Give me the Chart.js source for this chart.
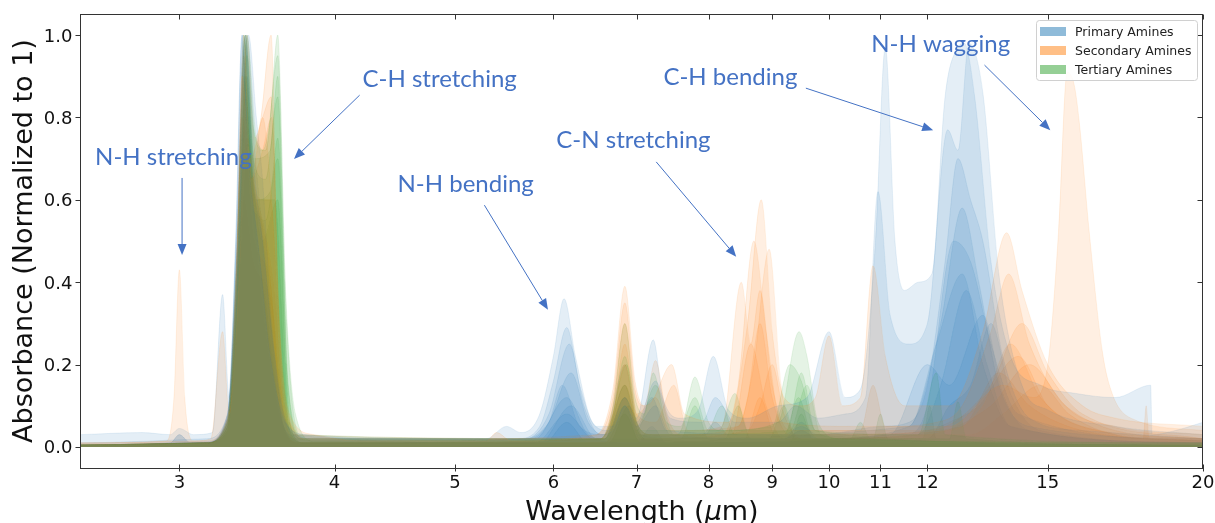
<!DOCTYPE html>
<html><head><meta charset="utf-8">
<script src="https://cdn.jsdelivr.net/npm/chart.js@4.4.0/dist/chart.umd.min.js"></script>
<style>html,body{margin:0;padding:0;background:#fff}#wrap{width:1215px;height:523px}</style>
</head><body><div id="wrap"><canvas id="c" width="1215" height="523"></canvas></div>
<script>
// ---- tick labels ----
const xTicks = [3,4,5,6,7,8,9,10,11,12,15,20];
const yTicks = [0,0.2,0.4,0.6,0.8,1.0];
const classNames = ['Primary Amines','Secondary Amines','Tertiary Amines'];

// ---- spectra: [wavelength (um), absorbance] ----
const primary1 = [[2.5,.03],[2.8,.035],[2.95,.03],[3.0,.045],[3.08,.03],[3.19,.035],[3.25,.37],[3.29,.12],[3.33,.5],[3.37,1.0],[3.41,.7],[3.47,.5],[3.55,.22],[3.65,.06],[3.8,.03],[4.5,.02],[5.3,.02],[5.5,.05],[5.65,.035],[5.85,.08],[6.0,.22],[6.12,.36],[6.25,.22],[6.45,.06],[6.65,.04],[6.85,.12],[7.0,.07],[7.22,.26],[7.35,.12],[7.6,.07],[7.85,.09],[8.07,.22],[8.3,.09],[8.6,.07],[9.1,.1],[9.6,.12],[10.0,.28],[10.3,.12],[10.6,.14],[10.9,.5],[11.1,.97],[11.3,.5],[11.5,.38],[11.8,.4],[12.1,.42],[12.4,.85],[12.7,.97],[12.85,.98],[13.1,.85],[13.5,.45],[14.0,.22],[14.8,.15],[15.8,.13],[17.0,.12],[18.15,.15],[18.2,.03],[19.0,.04],[20,.06]];
const primary2 = [[2.5,.01],[3.15,.02],[3.28,.08],[3.34,.55],[3.39,1.0],[3.44,.7],[3.5,.5],[3.57,.25],[3.66,.06],[3.85,.02],[5.6,.02],[5.85,.05],[6.0,.16],[6.15,.29],[6.3,.15],[6.5,.05],[6.7,.05],[6.85,.1],[7.0,.06],[7.25,.16],[7.45,.07],[7.9,.06],[8.1,.12],[8.4,.06],[9.1,.06],[9.4,.1],[9.8,.07],[10.3,.08],[10.7,.12],[10.95,.62],[11.2,.32],[11.6,.25],[12.0,.3],[12.46,.77],[12.7,.72],[12.96,.98],[13.3,.86],[13.7,.42],[14.3,.15],[15.0,.09],[17.0,.05],[20,.03]];
const primary3 = [[2.5,.005],[3.15,.01],[3.28,.07],[3.35,.55],[3.41,1.0],[3.46,.8],[3.5,.65],[3.56,.3],[3.65,.06],[3.85,.015],[5.7,.02],[5.95,.08],[6.18,.25],[6.35,.1],[6.55,.03],[6.7,.04],[6.85,.1],[7.0,.05],[7.2,.12],[7.4,.04],[9.2,.03],[9.5,.05],[9.8,.03],[11.0,.05],[11.6,.06],[12.0,.15],[12.4,.45],[12.7,.7],[13.0,.6],[13.3,.5],[13.8,.22],[14.5,.07],[16.0,.04],[20,.02]];
const primary4 = [[2.5,.005],[2.95,.01],[3.0,.03],[3.06,.012],[3.15,.012],[3.28,.06],[3.33,.3],[3.39,1.0],[3.44,.65],[3.5,.5],[3.6,.15],[3.72,.03],[5.7,.02],[5.95,.06],[6.2,.18],[6.4,.06],[6.6,.03],[6.85,.15],[7.0,.05],[7.25,.1],[7.45,.03],[9.2,.02],[9.5,.04],[9.8,.02],[11.6,.05],[12.3,.3],[12.8,.58],[13.2,.4],[13.7,.15],[14.5,.05],[20,.02]];
const primary5 = [[2.5,.005],[3.15,.01],[3.28,.08],[3.33,.5],[3.37,1.0],[3.42,.6],[3.48,.55],[3.55,.25],[3.65,.04],[3.8,.01],[5.75,.02],[5.95,.06],[6.1,.15],[6.3,.05],[6.6,.03],[6.85,.2],[7.0,.06],[7.2,.03],[7.9,.03],[8.1,.06],[8.3,.03],[11.5,.03],[12.0,.1],[12.6,.5],[13.0,.45],[13.5,.25],[14.2,.08],[20,.015]];
const primary6 = [[2.5,.005],[2.95,.01],[3.0,.03],[3.06,.01],[3.15,.012],[3.28,.08],[3.34,.45],[3.4,1.0],[3.45,.72],[3.52,.45],[3.6,.12],[3.72,.02],[5.8,.02],[6.15,.12],[6.4,.03],[6.6,.02],[6.85,.12],[7.0,.03],[9.2,.02],[9.5,.06],[9.8,.02],[11.8,.03],[12.3,.15],[12.9,.38],[13.4,.2],[14.0,.05],[20,.01]];
const primary7 = [[2.5,.005],[3.15,.01],[3.28,.06],[3.36,.6],[3.4,.9],[3.45,.55],[3.55,.2],[3.68,.03],[5.8,.01],[6.15,.08],[6.45,.02],[7.0,.01],[7.2,.05],[7.4,.01],[11.2,.03],[12.0,.2],[12.5,.15],[13.3,.32],[13.8,.13],[14.5,.04],[20,.01]];
const primary8 = [[2.5,.005],[3.15,.01],[3.28,.07],[3.34,.5],[3.38,1.0],[3.43,.65],[3.5,.4],[3.6,.1],[3.72,.01],[5.85,.01],[6.2,.1],[6.5,.02],[11.6,.05],[12.2,.25],[12.8,.42],[13.3,.2],[14.0,.05],[20,.01]];
const primary9 = [[2.5,.005],[3.15,.01],[3.28,.05],[3.35,.45],[3.39,.85],[3.45,.55],[3.52,.35],[3.64,.05],[3.75,.01],[5.9,.01],[6.15,.06],[6.4,.01],[12.0,.02],[12.5,.1],[13.0,.15],[13.5,.3],[14.0,.13],[14.8,.04],[20,.01]];

const secondary1 = [[2.5,.01],[2.93,.015],[2.97,.12],[3.0,.43],[3.03,.12],[3.08,.015],[3.18,.02],[3.25,.28],[3.29,.08],[3.33,.35],[3.37,.9],[3.42,.7],[3.49,.8],[3.556,1.0],[3.6,.4],[3.68,.08],[3.85,.03],[4.2,.015],[5.3,.015],[5.4,.035],[5.55,.015],[6.5,.03],[6.7,.14],[6.85,.39],[6.98,.16],[7.1,.1],[7.2,.11],[7.47,.2],[7.65,.08],[8.3,.06],[8.6,.3],[8.82,.6],[9.0,.28],[9.2,.12],[9.5,.1],[9.75,.12],[10.0,.27],[10.25,.1],[10.6,.12],[10.85,.44],[11.1,.22],[11.5,.1],[12.5,.1],[13.3,.28],[13.9,.52],[14.3,.38],[15.0,.2],[16.0,.1],[17.0,.07],[20,.05]];
const secondary2 = [[2.5,.01],[3.15,.015],[3.28,.07],[3.34,.5],[3.38,1.0],[3.43,.65],[3.5,.8],[3.56,.6],[3.65,.1],[3.8,.02],[6.55,.02],[6.7,.08],[6.85,.2],[7.0,.06],[7.2,.03],[8.2,.03],[8.45,.15],[8.7,.5],[8.9,.28],[9.15,.06],[10.5,.05],[12.5,.05],[13.8,.15],[14.6,.12],[15.0,.2],[15.3,.52],[15.55,.91],[15.75,.88],[15.9,.79],[16.2,.52],[16.6,.23],[16.9,.13],[17.5,.07],[20,.04]];
const secondary3 = [[2.5,.005],[3.15,.01],[3.28,.06],[3.35,.4],[3.4,1.0],[3.45,.75],[3.5,.8],[3.556,.85],[3.61,.3],[3.7,.05],[3.85,.015],[6.5,.03],[6.7,.12],[6.85,.35],[6.98,.14],[7.1,.1],[7.25,.21],[7.4,.08],[7.6,.03],[8.45,.05],[8.7,.2],[8.95,.48],[9.15,.15],[9.4,.04],[10.6,.04],[10.85,.15],[11.1,.05],[12.2,.06],[12.8,.1],[13.5,.28],[13.95,.42],[14.5,.25],[15.5,.1],[17.0,.05],[20,.03]];
const secondary4 = [[2.5,.005],[3.15,.01],[3.28,.06],[3.34,.45],[3.38,.95],[3.43,.65],[3.5,.72],[3.56,.8],[3.62,.2],[3.72,.03],[6.55,.02],[6.7,.1],[6.85,.3],[7.0,.08],[7.25,.06],[7.5,.15],[7.7,.04],[8.2,.05],[8.5,.4],[8.65,.25],[8.8,.38],[9.0,.15],[9.3,.04],[12.0,.04],[13.5,.15],[14.3,.3],[15.0,.18],[16.0,.08],[20,.02]];
const secondary5 = [[2.5,.005],[3.15,.01],[3.28,.07],[3.34,.5],[3.39,1.0],[3.44,.65],[3.5,.6],[3.55,.6],[3.62,.15],[3.72,.02],[6.55,.02],[6.7,.08],[6.85,.25],[7.0,.08],[7.25,.12],[7.45,.04],[8.45,.05],[8.6,.12],[8.8,.3],[9.0,.12],[9.3,.03],[12.5,.04],[13.3,.1],[14.0,.25],[14.8,.12],[16.0,.05],[20,.02]];
const secondary6 = [[2.5,.005],[3.15,.01],[3.28,.05],[3.33,.4],[3.37,.8],[3.42,.65],[3.5,.55],[3.57,.4],[3.65,.06],[3.78,.01],[6.6,.02],[6.85,.15],[7.05,.03],[8.35,.03],[8.65,.25],[8.9,.1],[9.2,.02],[12.0,.03],[13.5,.1],[14.5,.2],[15.5,.1],[17.0,.04],[20,.02]];
const secondary7 = [[2.5,.005],[3.15,.01],[3.28,.05],[3.35,.4],[3.4,.75],[3.46,.6],[3.54,.45],[3.63,.06],[3.75,.01],[6.6,.01],[6.85,.12],[7.05,.02],[8.6,.04],[8.8,.1],[9.0,.2],[9.2,.08],[9.5,.02],[12.8,.05],[13.7,.18],[14.5,.1],[16.0,.04],[20,.015]];
const secondary8 = [[2.5,.005],[3.15,.01],[3.28,.04],[3.34,.35],[3.39,.7],[3.45,.5],[3.55,.4],[3.64,.04],[3.75,.01],[6.65,.01],[6.9,.1],[7.1,.02],[8.55,.02],[8.8,.12],[9.05,.03],[13.0,.03],[13.8,.08],[14.8,.15],[15.6,.08],[17.0,.03],[20,.015]];
const secondary9 = [[2.5,.005],[3.15,.01],[3.28,.04],[3.38,.6],[3.44,.45],[3.56,.35],[3.65,.04],[3.75,.01],[6.6,.01],[6.85,.08],[7.05,.01],[12.0,.04],[12.5,.06],[13.2,.1],[14.2,.22],[15.0,.1],[17.0,.03],[17.9,.02],[18.0,.1],[18.1,.02],[20,.02]];

const tertiary1 = [[2.5,.005],[3.15,.01],[3.28,.07],[3.34,.5],[3.39,1.0],[3.44,.78],[3.5,.72],[3.55,.8],[3.6,1.0],[3.65,.4],[3.72,.08],[3.85,.015],[6.55,.02],[6.7,.1],[6.85,.3],[6.98,.12],[7.1,.08],[7.22,.18],[7.4,.06],[7.6,.05],[7.8,.17],[8.0,.06],[8.2,.04],[9.1,.06],[9.46,.28],[9.6,.22],[9.8,.06],[10.2,.02],[20,.01]];
const tertiary2 = [[2.5,.005],[3.15,.01],[3.28,.06],[3.35,.5],[3.4,1.0],[3.46,.75],[3.52,.72],[3.6,.95],[3.66,.3],[3.75,.03],[6.55,.02],[6.7,.08],[6.85,.22],[7.0,.06],[7.2,.03],[7.55,.03],[7.8,.12],[8.0,.04],[9.0,.05],[9.3,.2],[9.5,.16],[9.75,.04],[11.8,.03],[12.2,.18],[12.4,.03],[20,.01]];
const tertiary3 = [[2.5,.005],[3.15,.01],[3.28,.06],[3.34,.45],[3.38,1.0],[3.44,.7],[3.52,.65],[3.6,.85],[3.67,.15],[3.78,.02],[6.6,.02],[6.87,.2],[7.05,.04],[8.15,.04],[8.4,.13],[8.6,.04],[9.25,.04],[9.5,.18],[9.75,.04],[12.5,.02],[12.7,.11],[12.9,.02],[20,.005]];
const tertiary4 = [[2.5,.005],[3.15,.01],[3.28,.05],[3.34,.4],[3.39,.9],[3.45,.7],[3.55,.72],[3.6,.9],[3.66,.2],[3.76,.02],[6.6,.02],[6.85,.1],[7.0,.04],[7.25,.15],[7.5,.03],[9.3,.04],[9.6,.15],[9.85,.03],[10.4,.02],[10.6,.06],[10.8,.02],[20,.005]];
const tertiary5 = [[2.5,.005],[3.15,.01],[3.28,.05],[3.35,.45],[3.4,.95],[3.46,.6],[3.55,.62],[3.6,.75],[3.68,.06],[3.78,.01],[6.6,.02],[6.85,.15],[7.05,.03],[7.95,.03],[8.2,.1],[8.4,.03],[9.2,.03],[9.45,.12],[9.7,.03],[20,.005]];
const tertiary6 = [[2.5,.005],[3.15,.01],[3.28,.05],[3.34,.4],[3.38,.9],[3.45,.6],[3.52,.55],[3.6,.7],[3.68,.06],[3.78,.01],[6.6,.02],[6.85,.12],[7.05,.03],[7.6,.02],[7.8,.1],[8.0,.02],[8.95,.02],[9.2,.1],[9.4,.02],[20,.005]];
const tertiary7 = [[2.5,.005],[3.15,.01],[3.28,.04],[3.35,.4],[3.39,.8],[3.46,.6],[3.58,.6],[3.67,.05],[3.78,.01],[6.6,.01],[6.85,.08],[7.05,.01],[8.25,.02],[8.45,.1],[8.65,.02],[10.85,.02],[11.0,.08],[11.15,.02],[20,.005]];
const tertiary8 = [[2.5,.005],[3.15,.01],[3.28,.04],[3.35,.35],[3.4,.7],[3.5,.5],[3.6,.6],[3.68,.04],[3.78,.01],[6.65,.01],[6.9,.1],[7.1,.02],[9.3,.01],[9.5,.08],[9.7,.02],[11.9,.02],[12.05,.1],[12.2,.02],[20,.005]];

// ---- annotations (text baseline position and arrow, in data units) ----
const annotations = [
  {text:'N-H stretching', x:2.967, y:0.684, from:[3.015,0.653], to:[3.015,0.466]},
  {text:'C-H stretching', x:4.86,  y:0.874, from:[4.19,0.854],  to:[3.71,0.699]},
  {text:'N-H bending',    x:5.10,  y:0.619, from:[5.28,0.587],  to:[5.94,0.333]},
  {text:'C-N stretching', x:6.96,  y:0.726, from:[7.26,0.692],  to:[8.42,0.462]},
  {text:'C-H bending',    x:8.33,  y:0.879, from:[9.58,0.871],  to:[12.13,0.769]},
  {text:'N-H wagging',    x:12.3,  y:0.959, from:[13.34,0.927], to:[15.07,0.769]}
];

const primaryList   = [primary1,primary2,primary3,primary4,primary5,primary6,primary7,primary8,primary9];
const secondaryList = [secondary1,secondary2,secondary3,secondary4,secondary5,secondary6,secondary7,secondary8,secondary9];
const tertiaryList  = [tertiary1,tertiary2,tertiary3,tertiary4,tertiary5,tertiary6,tertiary7,tertiary8];
const rgbP = '31,119,180', rgbS = '255,127,14', rgbT = '44,160,44';
const legendColors = [rgbP, rgbS, rgbT];
const ALPHA = 0.12;

function makeDs(s, rgb){
  return {
    data: s.map(p => ({x:p[0], y:p[1]})),
    fill: 'origin',
    backgroundColor: `rgba(${rgb},${ALPHA})`,
    borderColor: `rgba(${rgb},${ALPHA})`,
    borderWidth: 0.8,
    pointRadius: 0,
    cubicInterpolationMode: 'monotone'
  };
}
const datasets = [];
for (let i = 0; i < 9; i++) {
  if (secondaryList[i]) datasets.push(makeDs(secondaryList[i], rgbS));
  if (primaryList[i]) datasets.push(makeDs(primaryList[i], rgbP));
  if (tertiaryList[i]) datasets.push(makeDs(tertiaryList[i], rgbT));
}

const ANN = '#4472C4';
const decor = {
  id:'decor',
  afterDraw(chart){
    const ctx = chart.ctx, xs = chart.scales.x, ys = chart.scales.y, a = chart.chartArea;
    ctx.save();
    // annotations
    ctx.font = '24px Lato';
    ctx.fillStyle = ANN; ctx.strokeStyle = ANN; ctx.lineWidth = 1;
    ctx.textAlign = 'center'; ctx.textBaseline = 'alphabetic';
    annotations.forEach(an => {
      ctx.fillText(an.text, xs.getPixelForValue(an.x), ys.getPixelForValue(an.y));
      const x1 = xs.getPixelForValue(an.from[0]), y1 = ys.getPixelForValue(an.from[1]);
      const x2 = xs.getPixelForValue(an.to[0]),   y2 = ys.getPixelForValue(an.to[1]);
      const ang = Math.atan2(y2-y1, x2-x1), L = 11, W = 4.5;
      const bx = x2 - L*Math.cos(ang), by = y2 - L*Math.sin(ang);
      ctx.beginPath(); ctx.moveTo(x1,y1); ctx.lineTo(bx,by); ctx.stroke();
      ctx.beginPath(); ctx.moveTo(x2,y2);
      ctx.lineTo(bx + W*Math.sin(ang), by - W*Math.cos(ang));
      ctx.lineTo(bx - W*Math.sin(ang), by + W*Math.cos(ang));
      ctx.closePath(); ctx.fill();
    });
    // frame
    ctx.strokeStyle = '#333'; ctx.lineWidth = 1;
    const L0 = Math.round(a.left)-0.5, R0 = Math.round(a.right)-0.5, T0 = Math.round(a.top)+0.5, B0 = Math.round(a.bottom)+0.5;
    ctx.strokeRect(L0, T0, R0-L0, B0-T0);
    // ticks
    ctx.beginPath();
    xTicks.forEach(v => {
      const px = Math.round(xs.getPixelForValue(v)) + 0.5;
      ctx.moveTo(px, B0-4); ctx.lineTo(px, B0+3);
      ctx.moveTo(px, T0); ctx.lineTo(px, T0+5);
    });
    yTicks.forEach(v => {
      const py = Math.round(ys.getPixelForValue(v)) + 0.5;
      ctx.moveTo(L0-5, py); ctx.lineTo(L0, py);
      ctx.moveTo(R0-5, py); ctx.lineTo(R0, py);
    });
    ctx.stroke();
    // tick labels
    ctx.fillStyle = '#111'; ctx.font = '18px "DejaVu Sans"';
    ctx.textAlign = 'center';
    xTicks.forEach(v => ctx.fillText(String(v), xs.getPixelForValue(v), B0+19));
    ctx.textAlign = 'right';
    yTicks.forEach(v => ctx.fillText(v.toFixed(1), L0-8, ys.getPixelForValue(v)+6.5));
    // axis titles
    ctx.font = '27px "DejaVu Sans"';
    const p1 = 'Wavelength (', mu = 'μ', p2 = 'm)';
    const w1 = ctx.measureText(p1).width, w3 = ctx.measureText(p2).width;
    ctx.font = 'italic 27px "DejaVu Sans"'; const w2 = ctx.measureText(mu).width;
    const cx = (a.left + a.right)/2, tot = w1+w2+w3; let sx = cx - tot/2;
    ctx.textAlign = 'left';
    ctx.font = '27px "DejaVu Sans"'; ctx.fillText(p1, sx, 520);
    ctx.font = 'italic 27px "DejaVu Sans"'; ctx.fillText(mu, sx+w1, 520);
    ctx.font = '27px "DejaVu Sans"'; ctx.fillText(p2, sx+w1+w2, 520);
    ctx.save();
    ctx.translate(32, (a.top+a.bottom)/2); ctx.rotate(-Math.PI/2);
    ctx.textAlign = 'center';
    ctx.fillText('Absorbance (Normalized to 1)', 0, 0);
    ctx.restore();
    // legend
    const lx = a.right - 167, ly = a.top + 6, lw = 161, lh = 60;
    ctx.beginPath();
    if (ctx.roundRect) ctx.roundRect(lx+0.5, ly+0.5, lw, lh, 3); else ctx.rect(lx+0.5, ly+0.5, lw, lh);
    ctx.fillStyle = 'rgba(255,255,255,0.85)'; ctx.fill();
    ctx.strokeStyle = '#d0d0d0'; ctx.stroke();
    ctx.font = '12.5px "DejaVu Sans"'; ctx.textAlign = 'left';
    classNames.forEach((n,i) => {
      const ry = ly + 11 + i*19;
      ctx.fillStyle = `rgba(${legendColors[i]},0.5)`;
      ctx.fillRect(lx+4, ry-4, 26, 9);
      ctx.fillStyle = '#222';
      ctx.fillText(n, lx+39, ry+4.5);
    });
    ctx.restore();
  }
};

new Chart(document.getElementById('c'), {
  type:'line',
  data:{datasets},
  options:{
    responsive:false, animation:false, devicePixelRatio:1,
    layout:{padding:{left:81, right:12, top:14, bottom:55}},
    plugins:{legend:{display:false}, tooltip:{enabled:false}},
    scales:{
      x:{type:'logarithmic', min:2.5, max:20, display:false},
      y:{type:'linear', min:-0.051, max:1.051, display:false}
    }
  },
  plugins:[decor]
});
</script></body></html>
